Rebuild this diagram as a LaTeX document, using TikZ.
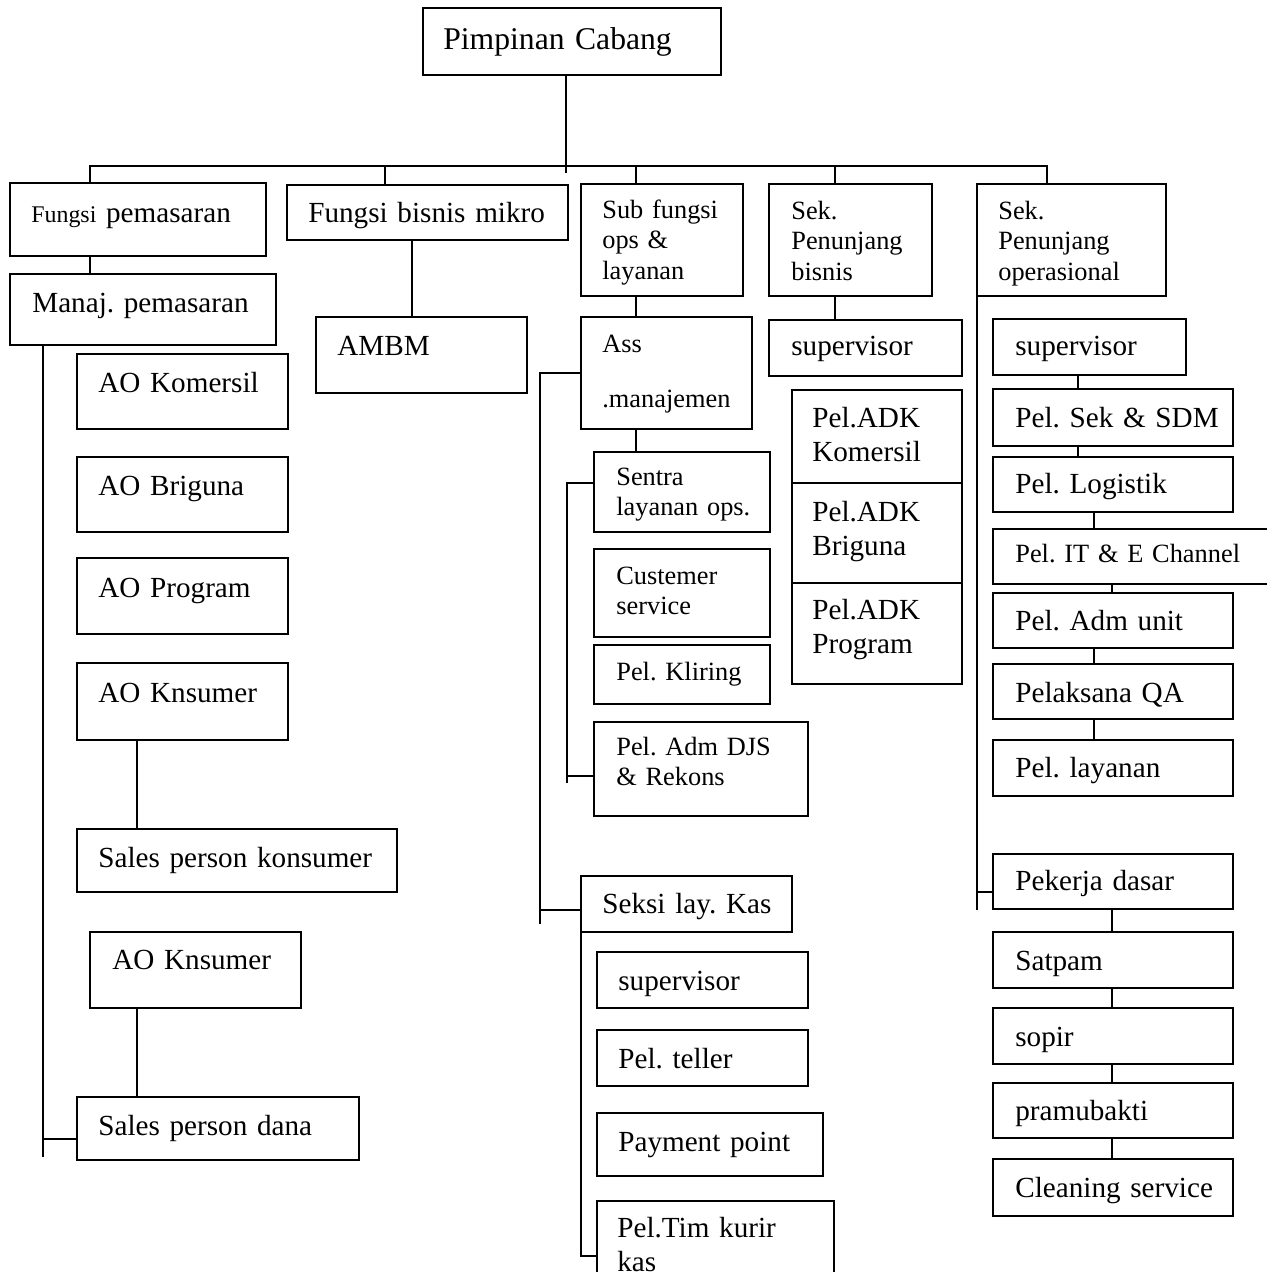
\documentclass[tikz,border=0pt]{standalone}
\usepackage{fontspec}
\setmainfont{Liberation Serif}
\usetikzlibrary{fit,calc}
\frenchspacing
\tikzset{
  orgbox/.style={draw,line width=1.1pt,inner sep=0pt,outer sep=0pt},
  link/.style={line width=1.1pt},
  bigtxt/.style={anchor=base west,inner sep=0pt,text width=7cm,align=left,
    font=\fontsize{16.6}{19.5}\selectfont},
  smalltxt/.style={anchor=base west,inner sep=0pt,text width=7cm,align=left,
    font=\fontsize{15}{17.4}\selectfont}
}

\begin{document}
\begin{tikzpicture}[x=0.02cm,y=-0.02cm]
  \useasboundingbox (0,0) rectangle (1267,1272);
  \clip (0,0) rectangle (1267,1272);

  % top
  \node[orgbox,fit={(423,8) (721,75)}] (pc) {};
  \node[bigtxt,font=\fontsize{18}{21}\selectfont] (pc-t) at (443,49) {Pimpinan Cabang};

  % first row
  \node[orgbox,fit={(10,183) (266,256)}] (fp) {};
  \node[bigtxt] (fp-t) at (31,222) {{\fontsize{13.6}{16}\selectfont Fungsi} pemasaran};
  \node[orgbox,fit={(287,185) (568,240)}] (fbm) {};
  \node[bigtxt] (fbm-t) at (308,222) {Fungsi bisnis mikro};
  \node[orgbox,fit={(581,184) (743,296)}] (sfo) {};
  \node[smalltxt] (sfo-t) at (602,218) {Sub fungsi\\ops \&\\layanan};
  \node[orgbox,fit={(769,184) (932,296)}] (spb) {};
  \node[smalltxt] (spb-t) at (791,219) {Sek.\\Penunjang\\bisnis};
  \node[orgbox,fit={(977,184) (1166,296)}] (spo) {};
  \node[smalltxt] (spo-t) at (998,219) {Sek.\\Penunjang\\operasional};

  % pemasaran
  \node[orgbox,fit={(10,274) (276,345)}] (manaj) {};
  \node[bigtxt] (manaj-t) at (32,312) {Manaj. pemasaran};
  \node[orgbox,fit={(77,354) (288,429)}] (aokom) {};
  \node[bigtxt] (aokom-t) at (98,392) {AO Komersil};
  \node[orgbox,fit={(77,457) (288,532)}] (aobri) {};
  \node[bigtxt] (aobri-t) at (98,495) {AO Briguna};
  \node[orgbox,fit={(77,558) (288,634)}] (aoprog) {};
  \node[bigtxt] (aoprog-t) at (98,597) {AO Program};
  \node[orgbox,fit={(77,663) (288,740)}] (aokn) {};
  \node[bigtxt] (aokn-t) at (98,702) {AO Knsumer};
  \node[orgbox,fit={(77,829) (397,892)}] (spk) {};
  \node[bigtxt] (spk-t) at (98,867) {Sales person konsumer};
  \node[orgbox,fit={(90,932) (301,1008)}] (aokn2) {};
  \node[bigtxt] (aokn2-t) at (112,969) {AO Knsumer};
  \node[orgbox,fit={(77,1097) (359,1160)}] (spd) {};
  \node[bigtxt] (spd-t) at (98,1135) {Sales person dana};

  % bisnis mikro
  \node[orgbox,fit={(316,317) (527,393)}] (ambm) {};
  \node[bigtxt] (ambm-t) at (337,355) {AMBM};

  % ops & layanan
  \node[orgbox,fit={(581,317) (752,429)}] (ass) {};
  \node[smalltxt] (ass-t) at (602,352) {Ass\\[14pt].manajemen};
  \node[orgbox,fit={(594,452) (770,532)}] (sentra) {};
  \node[smalltxt] (sentra-t) at (616,485) {Sentra\\layanan ops.};
  \node[orgbox,fit={(594,549) (770,637)}] (cust) {};
  \node[smalltxt] (cust-t) at (616,584) {Custemer\\service};
  \node[orgbox,fit={(594,645) (770,704)}] (klir) {};
  \node[smalltxt] (klir-t) at (616,680) {Pel. Kliring};
  \node[orgbox,fit={(594,722) (808,816)}] (adm) {};
  \node[smalltxt] (adm-t) at (616,755) {Pel. Adm DJS\\\& Rekons};
  \node[orgbox,fit={(581,876) (792,932)}] (slk) {};
  \node[bigtxt] (slk-t) at (602,913) {Seksi lay. Kas};
  \node[orgbox,fit={(597,952) (808,1008)}] (supk) {};
  \node[bigtxt] (supk-t) at (618,990) {supervisor};
  \node[orgbox,fit={(597,1030) (808,1086)}] (tel) {};
  \node[bigtxt] (tel-t) at (618,1068) {Pel. teller};
  \node[orgbox,fit={(597,1113) (823,1176)}] (pay) {};
  \node[bigtxt] (pay-t) at (618,1151) {Payment point};
  \node[orgbox,fit={(597,1201) (834,1320)}] (tk) {};
  \node[bigtxt] (tk-t) at (617,1237) {Pel.Tim kurir\\kas};

  % penunjang bisnis
  \node[orgbox,fit={(769,320) (962,376)}] (supb) {};
  \node[bigtxt] (supb-t) at (791,355) {supervisor};
  \node[orgbox,fit={(792,390) (962,483)}] (adk1) {};
  \node[bigtxt] (adk1-t) at (812,427) {Pel.ADK\\Komersil};
  \node[orgbox,fit={(792,483) (962,583)}] (adk2) {};
  \node[bigtxt] (adk2-t) at (812,521) {Pel.ADK\\Briguna};
  \node[orgbox,fit={(792,583) (962,684)}] (adk3) {};
  \node[bigtxt] (adk3-t) at (812,619) {Pel.ADK\\Program};

  % penunjang operasional
  \node[orgbox,fit={(993,319) (1186,375)}] (sups) {};
  \node[bigtxt] (sups-t) at (1015,355) {supervisor};
  \node[orgbox,fit={(993,389) (1233,446)}] (psdm) {};
  \node[bigtxt] (psdm-t) at (1015,427) {Pel. Sek \& SDM};
  \node[orgbox,fit={(993,457) (1233,512)}] (plog) {};
  \node[bigtxt] (plog-t) at (1015,493) {Pel. Logistik};
  \node[orgbox,fit={(993,529) (1300,584)}] (pit) {};
  \node[smalltxt] (pit-t) at (1015,562) {Pel. IT \& E Channel};
  \node[orgbox,fit={(993,593) (1233,648)}] (padm) {};
  \node[bigtxt] (padm-t) at (1015,630) {Pel. Adm unit};
  \node[orgbox,fit={(993,664) (1233,719)}] (pqa) {};
  \node[bigtxt] (pqa-t) at (1015,702) {Pelaksana QA};
  \node[orgbox,fit={(993,740) (1233,796)}] (play) {};
  \node[bigtxt] (play-t) at (1015,777) {Pel. layanan};
  \node[orgbox,fit={(993,854) (1233,909)}] (pkd) {};
  \node[bigtxt] (pkd-t) at (1015,890) {Pekerja dasar};
  \node[orgbox,fit={(993,932) (1233,988)}] (sat) {};
  \node[bigtxt] (sat-t) at (1015,970) {Satpam};
  \node[orgbox,fit={(993,1008) (1233,1064)}] (sop) {};
  \node[bigtxt] (sop-t) at (1015,1046) {sopir};
  \node[orgbox,fit={(993,1083) (1233,1138)}] (pram) {};
  \node[bigtxt] (pram-t) at (1015,1120) {pramubakti};
  \node[orgbox,fit={(993,1159) (1233,1216)}] (cs) {};
  \node[bigtxt] (cs-t) at (1015,1197) {Cleaning service};

  % bus
  \coordinate (hub) at (566,173);
  \coordinate (bus1) at (90,166);
  \coordinate (bus2) at (385,166);
  \coordinate (bus3) at (636,166);
  \coordinate (bus4) at (835,166);
  \coordinate (bus5) at (1047,166);
  \draw[link] (pc.south -| hub) -- (hub);
  \draw[link] (fp.north -| bus1) -- (bus1) -- (bus5) -- (spo.north -| bus5);
  \foreach \b/\n in {bus2/fbm,bus3/sfo,bus4/spb}
    \draw[link] (\b) -- (\b |- \n.north);

  % pemasaran lines
  \coordinate (lv) at (43,1157);
  \coordinate (lvj) at (43,1139);
  \coordinate (kx) at (137,0);
  \draw[link] (fp.south -| bus1) -- (manaj.north -| bus1);
  \draw[link] (manaj.south -| lv) -- (lv);
  \draw[link] (lvj) -- (lvj -| spd.west);
  \draw[link] (aokn.south -| kx) -- (spk.north -| kx);
  \draw[link] (aokn2.south -| kx) -- (spd.north -| kx);

  % bisnis mikro line
  \coordinate (mx) at (412,0);
  \draw[link] (fbm.south -| mx) -- (ambm.north -| mx);

  % ops & layanan lines
  \coordinate (mv) at (540,924);
  \coordinate (mvk) at (540,910);
  \coordinate (iv1) at (567,483);
  \coordinate (iv2) at (567,783);
  \coordinate (iv3) at (567,776);
  \coordinate (kv) at (581,1256);
  \draw[link] (sfo.south -| bus3) -- (ass.north -| bus3);
  \draw[link] (ass.south -| bus3) -- (sentra.north -| bus3);
  \draw[link] (ass.west) -- (ass.west -| mv) -- (mv);
  \draw[link] (mvk) -- (mvk -| slk.west);
  \draw[link] (sentra.west |- iv1) -- (iv1) -- (iv2);
  \draw[link] (iv3) -- (iv3 -| adm.west);
  \draw[link] (slk.south west) -- (kv) -- (kv -| tk.west);

  % penunjang bisnis line
  \draw[link] (spb.south -| bus4) -- (supb.north -| bus4);

  % penunjang operasional lines
  \coordinate (ov) at (977,910);
  \coordinate (ovj) at (977,892);
  \coordinate (c1) at (1078,0);
  \coordinate (c2) at (1094,0);
  \coordinate (c3) at (1112,0);
  \draw[link] (spo.south west) -- (ov);
  \draw[link] (ovj) -- (ovj -| pkd.west);
  \foreach \a/\b/\c in {sups/psdm/c1,psdm/plog/c1,plog/pit/c2,pit/padm/c3,
      padm/pqa/c2,pqa/play/c2,pkd/sat/c3,sat/sop/c3,sop/pram/c3,pram/cs/c3}
    \draw[link] (\a.south -| \c) -- (\b.north -| \c);
\end{tikzpicture}
\end{document}
